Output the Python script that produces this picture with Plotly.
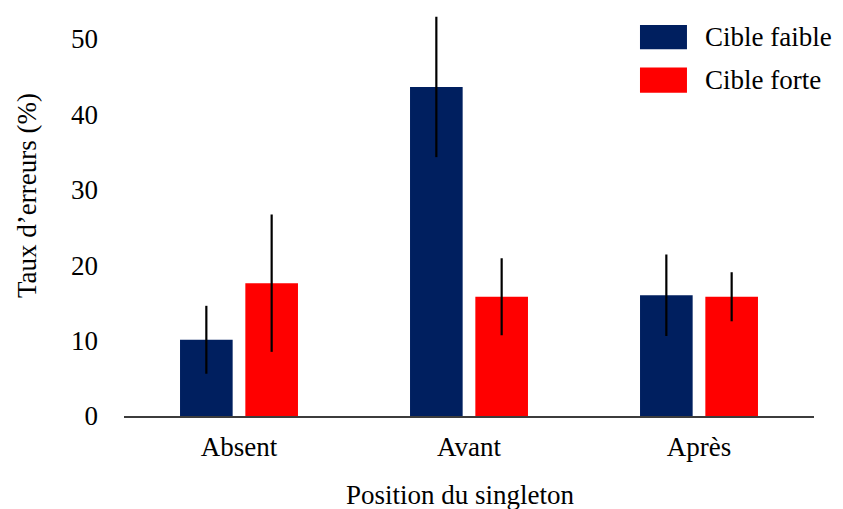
import plotly.graph_objects as go

categories = ["Absent", "Avant", "Après"]
series_names = ["Cible faible", "Cible forte"]
faible_values = [10.1, 43.6, 16.0]
faible_errors = [4.5, 9.3, 5.4]
forte_values = [17.6, 15.8, 15.8]
forte_errors = [9.1, 5.1, 3.25]
y_ticks = [0, 10, 20, 30, 40, 50]

navy = "#001f5f"
red = "#ff0000"
FONT = "Liberation Serif"
FS = 27

fig = go.Figure()
for name, vals, errs, col in [
    (series_names[0], faible_values, faible_errors, navy),
    (series_names[1], forte_values, forte_errors, red),
]:
    fig.add_trace(go.Bar(
        x=categories, y=vals, name=name,
        marker=dict(color=col, line=dict(width=0)),
        error_y=dict(type="data", array=errs, visible=True,
                     color="black", thickness=2.2, width=0),
        showlegend=False,
    ))

# custom legend (large swatches)
sw = [(0.9775, 0.9168), (0.871, 0.808)]
for (y1, y0), name, col in zip(sw, series_names, [navy, red]):
    fig.add_shape(type="rect", xref="paper", yref="paper",
                  x0=0.7478, x1=0.8159, y0=y0, y1=y1,
                  fillcolor=col, line=dict(width=0))
    fig.add_annotation(xref="paper", yref="paper", x=0.839, y=(y0 + y1) / 2,
                       text=name, showarrow=False, xanchor="left", yanchor="middle",
                       font=dict(family=FONT, size=FS, color="black"))

fig.add_annotation(xref="paper", yref="paper", x=-0.1406, y=0.5525,
                   text="Taux d’erreurs (%)", textangle=-90, showarrow=False,
                   xanchor="center", yanchor="middle",
                   font=dict(family=FONT, size=FS, color="black"))
fig.add_annotation(xref="paper", yref="paper", x=(460 - 124) / 690, y=-0.1975,
                   text="Position du singleton", showarrow=False,
                   xanchor="center", yanchor="middle",
                   font=dict(family=FONT, size=FS, color="black"))

fig.update_layout(
    width=843, height=509,
    margin=dict(l=124, r=29, t=16, b=93),
    barmode="group", bargap=0.432, bargroupgap=0.194,
    plot_bgcolor="white", paper_bgcolor="white",
    font=dict(family=FONT, size=FS, color="black"),
    xaxis=dict(showline=True, linecolor="#3c3c3c", linewidth=1.6,
               ticks="", showgrid=False, zeroline=False, ticklabelstandoff=6,
               range=[-0.5, 2.5], tickfont=dict(family=FONT, size=FS, color="black")),
    yaxis=dict(range=[0, 53], tickvals=y_ticks, ticks="", showgrid=False,
               zeroline=False, showline=False, ticklabelstandoff=25,
               tickfont=dict(family=FONT, size=FS, color="black")),
)

fig.write_html("out.html", config={"displayModeBar": False},
               post_script="document.body.style.margin='0';document.body.style.overflow='hidden';")
